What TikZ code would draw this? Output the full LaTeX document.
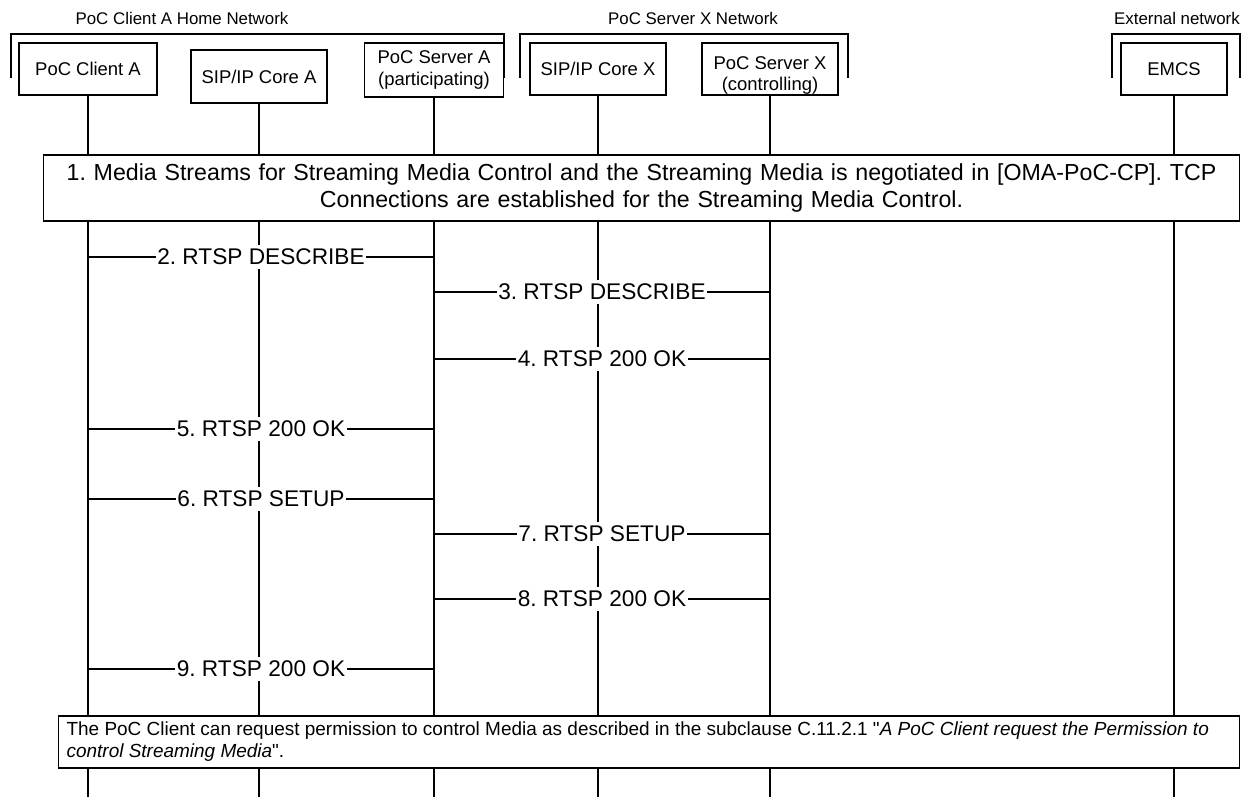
\documentclass[tikz,border=0pt]{standalone}
\usepackage{fontspec}
\setmainfont{Liberation Sans}[Ligatures=TeXOff]
\frenchspacing

\tikzset{
  entity/.style={draw, fill=white, line width=0.7pt, align=center, inner sep=1pt, font=\fontsize{10.5}{12}\selectfont},
  netlabel/.style={inner sep=0pt, font=\fontsize{9.6}{11}\selectfont},
  frame/.style={line width=0.7pt},
  lifeline/.style={line width=0.7pt},
  msg/.style={line width=0.7pt},
  msglabel/.style={fill=white, inner xsep=1pt, inner ysep=2pt, font=\fontsize{12.9}{15}\selectfont},
  notebox/.style={draw, fill=white, line width=0.7pt}
}

\begin{document}
\begin{tikzpicture}[x=0.02cm, y=-0.02cm]
\useasboundingbox (0,0) rectangle (1248,797);

% Define nodes
\node (clientA) at (88,69) [entity, minimum width=2.76cm, minimum height=1.04cm] {PoC Client A};
\node (coreA) at (259,76.5) [entity, minimum width=2.72cm, minimum height=1.06cm] {SIP/IP Core A};
\node (serverA) at (434,70) [entity, minimum width=2.78cm, minimum height=1.08cm] {PoC Server A\\(participating)};
\node (coreX) at (598,69) [entity, minimum width=2.72cm, minimum height=1.04cm] {SIP/IP Core X};
\node (serverX) at (770,69) [entity, inner ysep=0pt, minimum width=2.72cm, minimum height=1.04cm] {\rule{0pt}{15pt}PoC Server X\\(controlling)};
\node (emcs) at (1174,69) [entity, minimum width=2.12cm, minimum height=1.04cm] {EMCS};

% Network frames
\node (homenet) at (182,18) [netlabel] {PoC Client A Home Network};
\node (xnet) at (693,18) [netlabel] {PoC Server X Network};
\node (extnet) at (1177,18) [netlabel] {External network};
\draw[frame] (11,78) -- (11,34) -- (504,34) -- (504,78);
\draw[frame] (520,78) -- (520,34) -- (848,34) -- (848,78);
\draw[frame] (1112,78) -- (1112,34) -- (1240,34) -- (1240,78);

% Draw lifelines
\coordinate (bottom) at (0,797);
\draw[lifeline] (clientA.south) -- (clientA |- bottom);
\draw[lifeline] (coreA.south) -- (coreA |- bottom);
\draw[lifeline] (serverA.south) -- (serverA |- bottom);
\draw[lifeline] (coreX.south) -- (coreX |- bottom);
\draw[lifeline] (serverX.south) -- (serverX |- bottom);
\draw[lifeline] (emcs.south) -- (emcs |- bottom);

% Step 1
\node (step1) at (641.5,188) [notebox, text width=671pt, inner xsep=5pt, align=center, minimum height=1.32cm, font=\fontsize{13.2}{15}\selectfont] {1. Media Streams for Streaming Media Control and the Streaming Media is negotiated in [OMA-PoC-CP]. TCP\\Connections are established for the Streaming Media Control.};

% Messages
\coordinate (m2) at (0,257);
\coordinate (m3) at (0,292);
\coordinate (m4) at (0,359);
\coordinate (m5) at (0,429);
\coordinate (m6) at (0,499);
\coordinate (m7) at (0,534);
\coordinate (m8) at (0,599);
\coordinate (m9) at (0,669);
\draw[msg] (clientA |- m2) -- node[msglabel] {2. RTSP DESCRIBE} (serverA |- m2);
\draw[msg] (serverA |- m3) -- node[msglabel] {3. RTSP DESCRIBE} (serverX |- m3);
\draw[msg] (serverA |- m4) -- node[msglabel] {4. RTSP 200 OK} (serverX |- m4);
\draw[msg] (clientA |- m5) -- node[msglabel] {5. RTSP 200 OK} (serverA |- m5);
\draw[msg] (clientA |- m6) -- node[msglabel] {6. RTSP SETUP} (serverA |- m6);
\draw[msg] (serverA |- m7) -- node[msglabel] {7. RTSP SETUP} (serverX |- m7);
\draw[msg] (serverA |- m8) -- node[msglabel] {8. RTSP 200 OK} (serverX |- m8);
\draw[msg] (clientA |- m9) -- node[msglabel] {9. RTSP 200 OK} (serverA |- m9);

% Closing note
\node (note) at (649,742) [notebox, text width=663pt, inner xsep=4.8pt, align=flush left, minimum height=1.04cm, font=\fontsize{10.8}{12.5}\selectfont] {The PoC Client can request permission to control Media as described in the subclause C.11.2.1 "\textit{A PoC Client request the Permission to control Streaming Media}".};
\end{tikzpicture}
\end{document}
